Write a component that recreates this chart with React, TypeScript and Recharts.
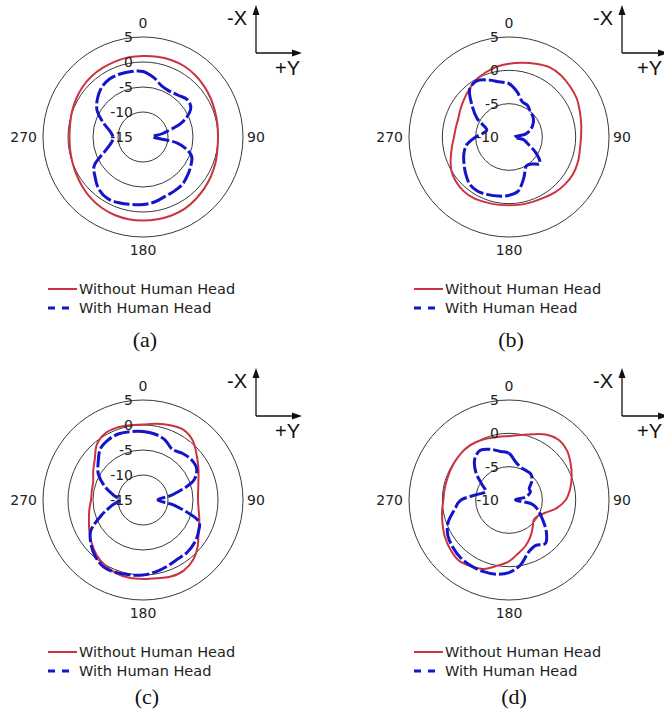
import React from "react";
import { RadarChart, Radar, PolarGrid, PolarAngleAxis, PolarRadiusAxis } from "recharts";

// angle categories in degrees, 0 at top, clockwise
const ANGLES = [
  0, 10, 20, 30, 40, 50, 60, 70, 80, 90, 100, 110, 120, 130, 140, 150, 160, 170,
  180, 190, 200, 210, 220, 230, 240, 250, 260, 270, 280, 290, 300, 310, 320, 330, 340, 350,
];

// gain in dB
const A_WITHOUT = [1.2, 1.3, 1.4, 1.4, 1.2, 0.9, 0.6, 0.3, 0.1, 0.0, 0.1, 0.4, 0.7, 1.0, 1.3, 1.6, 1.7, 1.7, 1.7, 1.7, 1.6, 1.4, 1.1, 0.7, 0.3, 0.0, -0.2, -0.3, -0.2, 0.1, 0.4, 0.7, 0.9, 1.0, 1.1, 1.2];
const A_WITH = [-1.9, -2.9, -4.1, -4.4, -4.1, -3.4, -4.0, -6.8, -11.0, -13.0, -8.0, -4.8, -3.9, -3.3, -2.7, -2.5, -2.3, -1.8, -1.5, -1.3, -1.0, -0.8, -1.3, -2.5, -3.8, -7.0, -8.6, -9.0, -8.3, -6.5, -4.4, -3.1, -2.1, -1.6, -1.6, -1.7];

const B_WITHOUT = [1.0, 1.3, 1.7, 2.1, 2.1, 1.9, 1.7, 1.3, 1.0, 0.8, 0.8, 1.0, 1.1, 1.0, 0.8, 0.5, 0.35, 0.3, 0.25, 0.3, 0.4, 0.6, 0.6, 0.4, 0.0, -0.7, -1.3, -1.75, -1.9, -1.9, -1.6, -1.2, -0.7, -0.1, 0.3, 0.7];
const B_WITH = [-2.0, -3.1, -4.3, -4.5, -5.0, -5.3, -5.8, -6.5, -7.5, -9.2, -7.8, -7.0, -5.4, -3.9, -4.7, -4.9, -3.5, -1.8, -1.25, -1.0, -0.8, -0.6, -0.8, -1.5, -2.2, -2.8, -3.6, -5.0, -6.2, -6.4, -4.5, -2.8, -0.8, -0.3, -0.9, -1.6];

const C_WITHOUT = [0.1, 0.5, 0.9, 1.2, 0.5, -1.0, -2.2, -3.2, -3.8, -4.0, -3.7, -3.0, -2.2, -0.7, 0.6, 1.3, 1.3, 0.9, 0.8, 0.8, 0.6, 0.1, -0.6, -1.6, -2.6, -3.5, -4.1, -4.6, -4.6, -4.4, -3.5, -2.4, -0.6, 0.3, 0.4, 0.2];
const C_WITH = [-1.3, -1.6, -2.2, -3.3, -2.8, -2.4, -2.6, -4.5, -9.0, -12.0, -8.5, -3.4, -2.2, -1.6, -1.3, -1.3, -0.9, -0.4, 0.0, 0.2, 0.45, 0.55, -0.2, -1.4, -3.0, -6.2, -8.7, -10.3, -8.9, -6.8, -4.7, -3.3, -1.7, -1.1, -0.9, -1.1];

const D_WITHOUT = [-0.4, -0.1, 0.5, 1.3, 1.7, 1.4, 0.7, 0.0, -0.7, -1.5, -2.8, -4.3, -5.1, -5.2, -4.5, -3.6, -2.7, -1.9, -0.8, 0.0, 1.0, 1.5, 1.8, 1.5, 1.1, 0.6, 0.2, -0.15, -0.2, -0.2, -0.1, 0.0, 0.1, 0.0, -0.2, -0.4];
const D_WITH = [-3.0, -4.2, -4.8, -4.9, -4.9, -5.5, -6.5, -6.6, -7.5, -9.0, -6.5, -5.3, -4.2, -2.7, -1.5, -2.1, -1.6, -0.1, 0.9, 1.3, 1.4, 1.4, 1.3, 1.0, 0.6, -0.3, -1.7, -2.8, -5.2, -6.3, -5.3, -3.5, -2.0, -1.4, -1.9, -2.6];

const TICKS_15 = [-15, -10, -5, 0, 5];
const TICKS_10 = [-10, -5, 0, 5];
const ANGLE_LABELS = [0, 90, 180, 270];
const LEGEND = ["Without Human Head", "With Human Head"];

const RED = "#cc3340";
const BLUE = "#1414c8";
const GRID = "#3a3a3a";
const SANS = "'DejaVu Sans', Verdana, sans-serif";
const ARIAL = "'Liberation Sans', Arial, sans-serif";

const buildRows = (without: number[], withHead: number[]) =>
  ANGLES.map((angle, i) => ({ angle, without: without[i], withHead: withHead[i] }));

// closed catmull-rom through the points the library computed
function closedCurve(pts: { x: number; y: number }[]) {
  const n = pts.length;
  if (!n) return "";
  let d = `M${pts[0].x},${pts[0].y}`;
  for (let i = 0; i < n; i++) {
    const p0 = pts[(i - 1 + n) % n];
    const p1 = pts[i];
    const p2 = pts[(i + 1) % n];
    const p3 = pts[(i + 2) % n];
    const c1x = p1.x + (p2.x - p0.x) / 6;
    const c1y = p1.y + (p2.y - p0.y) / 6;
    const c2x = p2.x - (p3.x - p1.x) / 6;
    const c2y = p2.y - (p3.y - p1.y) / 6;
    d += ` C${c1x},${c1y} ${c2x},${c2y} ${p2.x},${p2.y}`;
  }
  return d + "Z";
}

const angleTick = (props: any) => {
  const { x, y, payload } = props;
  const v = Number(payload.value);
  if (!ANGLE_LABELS.includes(v)) return <g />;
  let tx = x;
  let ty = y + 5;
  let anchor: "middle" | "start" | "end" = "middle";
  if (v === 0) ty = y - 1;
  else if (v === 180) ty = y + 10;
  else if (v === 90) {
    tx = x - 4;
    anchor = "start";
  } else {
    tx = x + 2;
    anchor = "end";
  }
  return (
    <text x={tx} y={ty} textAnchor={anchor} fontSize={14} fontFamily={SANS} fill="#222">
      {v}
    </text>
  );
};

const radiusTick = (props: any) => (
  <text x={props.x - 10} y={props.y + 5} textAnchor="end" fontSize={14} fontFamily={SANS} fill="#222">
    {props.payload.value}
  </text>
);

function Panel({ left, top, without, withHead, ticks, caption, captionX, captionY, plusYX = 275 }: any) {
  const data = buildRows(without, withHead);
  return (
    <div style={{ position: "absolute", left, top, width: 332, height: 360 }}>
      <svg width={332} height={360} style={{ position: "absolute", left: 0, top: 0 }}>
        {/* axes sketch */}
        <line x1={256} y1={53} x2={256} y2={13} stroke="#111" strokeWidth={1.3} />
        <polygon points="256,5 252.5,15 259.5,15" fill="#111" />
        <line x1={256} y1={53} x2={294} y2={53} stroke="#111" strokeWidth={1.3} />
        <polygon points="302,53 292,49.5 292,56.5" fill="#111" />
        <text x={247} y={25} textAnchor="end" fontSize={20} fontFamily={ARIAL} fill="#111">-X</text>
        <text x={plusYX} y={75} fontSize={20} fontFamily={ARIAL} fill="#111">+Y</text>
        {/* legend */}
        <line x1={48} y1={289} x2={77} y2={289} stroke={RED} strokeWidth={2} />
        <text x={79} y={294} fontSize={14.5} fontFamily={SANS} fill="#222">{LEGEND[0]}</text>
        <line x1={48} y1={308} x2={69} y2={308} stroke={BLUE} strokeWidth={3} strokeDasharray="7 7" />
        <text x={79} y={313} fontSize={14.5} fontFamily={SANS} fill="#222">{LEGEND[1]}</text>
        <text x={captionX} y={captionY} textAnchor="middle" fontSize={22} fontFamily="'Liberation Serif', 'Times New Roman', serif" fill="#111">
          {caption}
        </text>
      </svg>
      <div style={{ position: "absolute", left: 0, top: 0 }}>
        <RadarChart
          width={290}
          height={270}
          data={data}
          cx={143}
          cy={137}
          outerRadius={100}
          margin={{ top: 0, right: 0, bottom: 0, left: 0 }}
        >
          <PolarGrid gridType="circle" radialLines={false} stroke={GRID} strokeWidth={1} />
          <PolarAngleAxis dataKey="angle" axisLine={false} tickLine={false} tick={angleTick} />
          <PolarRadiusAxis
            angle={90}
            type="number"
            domain={[ticks[0], 5]}
            ticks={ticks}
            axisLine={false}
            tickLine={false}
            tick={radiusTick}
          />
          <Radar
            dataKey="without"
            stroke={RED}
            fill="none"
            dot={false}
            isAnimationActive={false}
            shape={(p: any) => <path d={closedCurve(p.points)} fill="none" stroke={RED} strokeWidth={2} />}
          />
          <Radar
            dataKey="withHead"
            stroke={BLUE}
            fill="none"
            dot={false}
            isAnimationActive={false}
            shape={(p: any) => (
              <path d={closedCurve(p.points)} fill="none" stroke={BLUE} strokeWidth={3} strokeDasharray="16 3" />
            )}
          />
        </RadarChart>
      </div>
    </div>
  );
}

export default function App() {
  return (
    <div
      style={{
        position: "absolute",
        left: 0,
        top: 0,
        width: 664,
        height: 719,
        overflow: "hidden",
        background: "#fff",
      }}
    >
      <Panel left={0} top={0} without={A_WITHOUT} withHead={A_WITH} ticks={TICKS_15} caption="(a)" captionX={145} captionY={347} />
      <Panel left={366} top={0} without={B_WITHOUT} withHead={B_WITH} ticks={TICKS_10} caption="(b)" captionX={145} captionY={347} plusYX={271} />
      <Panel left={0} top={363} without={C_WITHOUT} withHead={C_WITH} ticks={TICKS_15} caption="(c)" captionX={147} captionY={341} />
      <Panel left={366} top={363} without={D_WITHOUT} withHead={D_WITH} ticks={TICKS_10} caption="(d)" captionX={148} captionY={341} plusYX={271} />
    </div>
  );
}
